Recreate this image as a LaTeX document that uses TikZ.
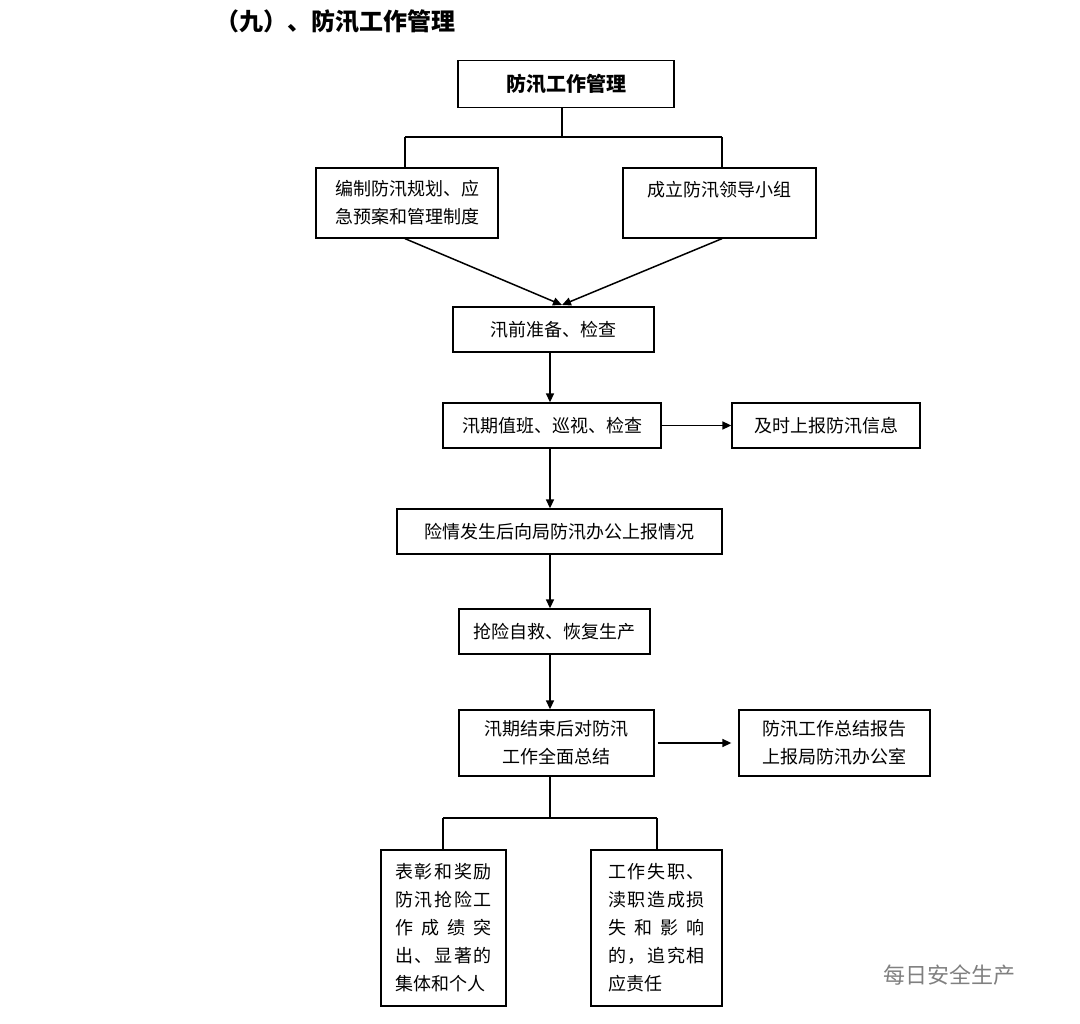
\documentclass[tikz,border=0pt]{standalone}
\usepackage{fontspec}
\setmainfont{Noto Sans CJK SC}
\usetikzlibrary{arrows.meta}
\begin{document}
\begin{tikzpicture}[x=1pt,y=-1pt,
  bx/.style={draw,line width=1.3pt,inner sep=0pt,font=\fontsize{18}{28}\selectfont,align=center},
  ln/.style={line width=1.3pt},
  ar/.style={line width=1.5pt,-{Triangle[length=9pt,width=8pt]}}]
\useasboundingbox (0,0) rectangle (1080,1024);
\node[font=\fontsize{24}{28}\selectfont\bfseries,anchor=west] (t) at (212,22) {（九）、防汛工作管理};
\node[bx,minimum width=216,minimum height=47,font=\fontsize{20}{28}\selectfont\bfseries] (b1) at (566,84) {防汛工作管理};
\node[bx,minimum width=182,minimum height=70] (b2) at (407,203) {编制防汛规划、应\\急预案和管理制度};
\node[bx,minimum width=193,minimum height=70] (b3) at (719.5,203) {成立防汛领导小组\\\mbox{}};
\node[bx,minimum width=201,minimum height=45] (b4) at (553.5,329.5) {汛前准备、检查};
\node[bx,minimum width=218,minimum height=45] (b5) at (552,425.5) {汛期值班、巡视、检查};
\node[bx,minimum width=188,minimum height=45] (b6) at (826,425.5) {及时上报防汛信息};
\node[bx,minimum width=325,minimum height=45] (b7) at (559.5,531.5) {险情发生后向局防汛办公上报情况};
\node[bx,minimum width=191,minimum height=45] (b8) at (554.5,631.5) {抢险自救、恢复生产};
\node[bx,minimum width=195,minimum height=66] (b9) at (556.5,743) {汛期结束后对防汛\\工作全面总结};
\node[bx,minimum width=191,minimum height=66] (b10) at (834.5,743) {防汛工作总结报告\\上报局防汛办公室};
\node[bx,minimum width=125,minimum height=156] (b11) at (443.5,928) {\makebox[97pt][s]{表\hfill 彰\hfill 和\hfill 奖\hfill 励}\\\makebox[97pt][s]{防\hfill 汛\hfill 抢\hfill 险\hfill 工}\\\makebox[97pt][s]{作\hfill 成\hfill 绩\hfill 突}\\\makebox[97pt][s]{出\hfill 、\hfill 显\hfill 著\hfill 的}\\\makebox[97pt][l]{集体和个人}};
\node[bx,minimum width=131,minimum height=156] (b12) at (656.5,928) {\makebox[97pt][s]{工\hfill 作\hfill 失\hfill 职\hfill 、}\\\makebox[97pt][s]{渎\hfill 职\hfill 造\hfill 成\hfill 损}\\\makebox[97pt][s]{失\hfill 和\hfill 影\hfill 响}\\\makebox[97pt][s]{的\hfill ，\hfill 追\hfill 究\hfill 相}\\\makebox[97pt][l]{应责任}};
\coordinate (j1) at (562,137);
\coordinate (j2) at (550,818);
\coordinate (m4) at (562,305);
\draw[ln] (b1.south -| j1) -- (j1) (405,137) -- (722,137) (405,137) -- (b2.north -| 405,0) (722,137) -- (b3.north -| 722,0);
\draw[ar] (b2.south -| 405,0) -- (m4);
\draw[ar] (b3.south -| 722,0) -- (m4);
\draw[ar] (b4.south -| 550,0) -- (b5.north -| 550,0);
\draw[ar] (b5.east) -- (b6.west);
\draw[ar] (b5.south -| 550,0) -- (b7.north -| 550,0);
\draw[ar] (b7.south -| 550,0) -- (b8.north -| 550,0);
\draw[ar] (b8.south -| 550,0) -- (b9.north -| 550,0);
\draw[ar] ([xshift=3pt]b9.east) -- ([xshift=-7pt]b10.west);
\draw[ln] (b9.south -| j2) -- (j2) (443,818) -- (657,818) (443,818) -- (b11.north -| 443,0) (657,818) -- (b12.north -| 657,0);
\node[font=\fontsize{22}{26}\selectfont,text=gray,anchor=west] (wm) at (880,975) {每日安全生产};
\end{tikzpicture}
\end{document}
